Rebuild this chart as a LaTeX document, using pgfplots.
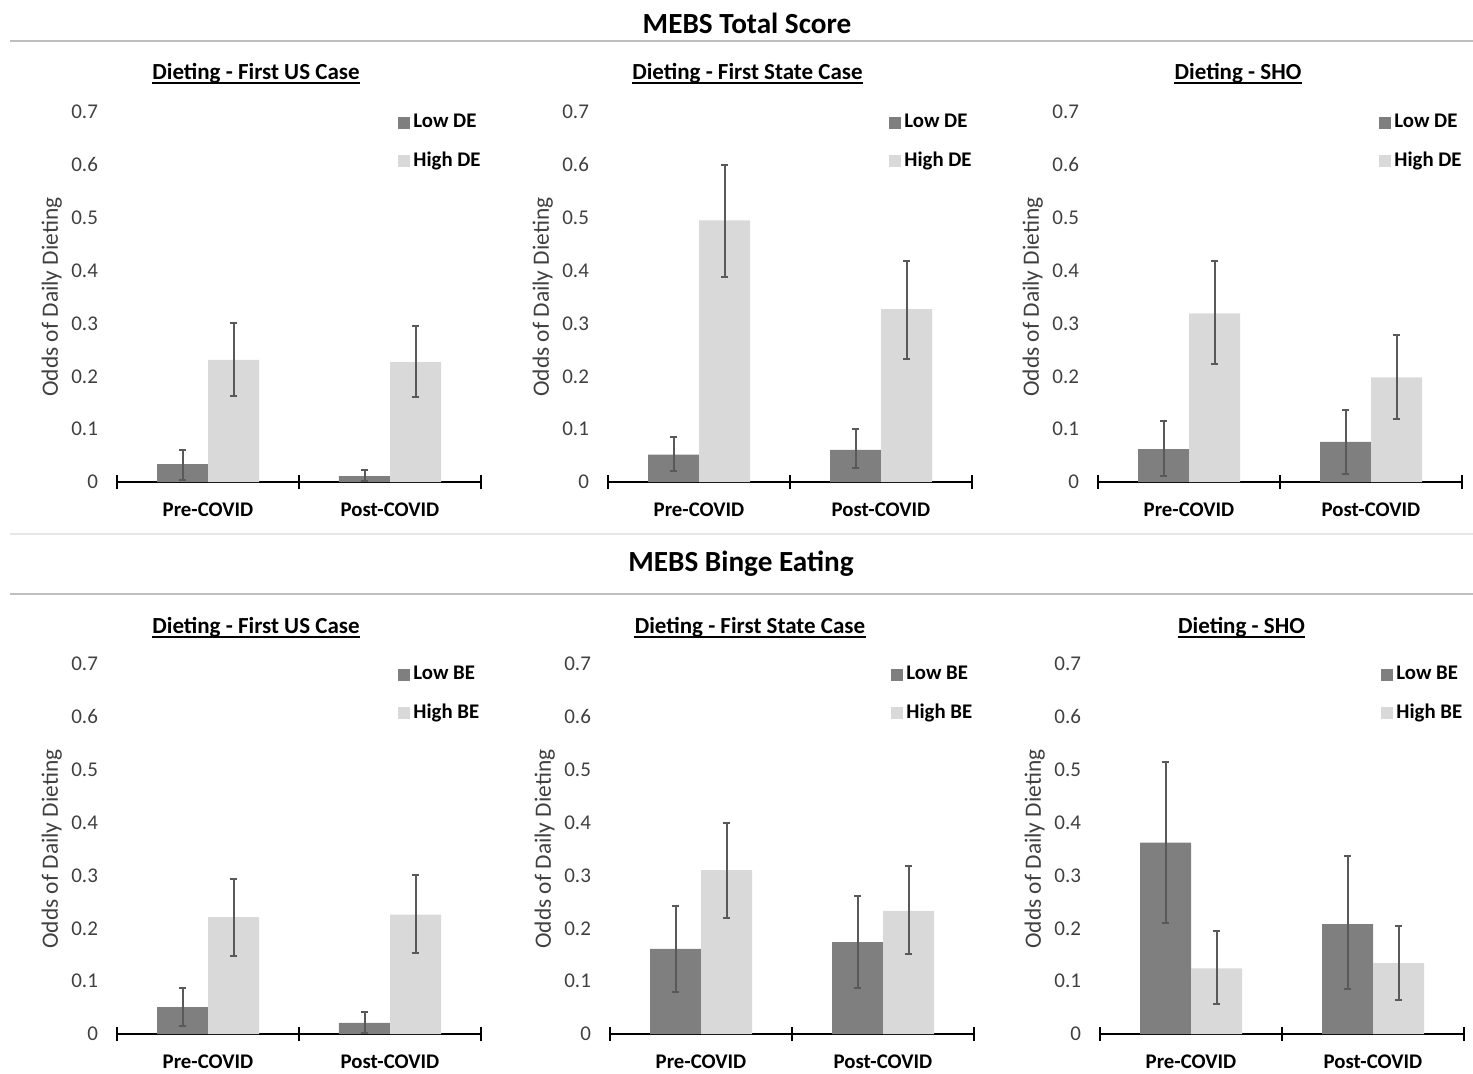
\documentclass[border=0pt]{standalone}
\usepackage{fontspec}
\setmainfont{Carlito}
\usepackage{pgfplots}
\pgfplotsset{compat=1.18}
\definecolor{lowc}{HTML}{7F7F7F}
\definecolor{highc}{HTML}{D9D9D9}
\definecolor{errc}{HTML}{595959}
\definecolor{txt}{HTML}{404040}
\definecolor{rulec}{HTML}{BFBFBF}
\definecolor{rulel}{HTML}{E6E6E6}
\newcommand{\legtxt}[1]{\fontsize{10.4}{12}\selectfont\bfseries #1}

\pgfplotsset{
 panel/.style={
  scale only axis, width=182pt, height=185pt,
  xmin=-0.5, xmax=1.5, ymin=0, ymax=0.7,
  axis x line=bottom, axis y line=left,
  x axis line style={-, line width=1.2pt, black},
  y axis line style={draw=none},
  xtick={0,1}, xticklabels={Pre-COVID,Post-COVID},
  major tick length=0pt,
  extra x ticks={-0.5,0.5,1.5}, extra x tick labels={},
  extra x tick style={major tick length=7pt, tick align=center, tick style={line width=1pt, black}},
  xticklabel style={font=\fontsize{10.4}{12}\selectfont\bfseries, anchor=center, yshift=-14pt},
  ytick={0,0.1,0.2,0.3,0.4,0.5,0.6,0.7},
  yticklabels={0,0.1,0.2,0.3,0.4,0.5,0.6,0.7},
  yticklabel style={font=\fontsize{10.5}{12}\selectfont, text=txt, xshift=-6pt},
  ylabel={Odds of Daily Dieting},
  every axis y label/.style={at={(axis description cs:-0.179,0.5)}, rotate=90, anchor=center, font=\fontsize{11.7}{14}\selectfont, text=txt},
  ybar=0pt, bar width=25.5pt,
  legend style={at={(axis description cs:0.772,1)}, anchor=north west, yshift=0.5pt, draw=none, fill=none, inner sep=0pt,
    nodes={inner sep=1.5pt},
    row sep=7.5pt},
  legend cell align=left,
  clip=false,
 },
 errs/.style={error bars/.cd, y dir=both, y explicit, error bar style={line width=1pt, errc}, error mark options={line width=1pt, errc, mark size=1.8pt, rotate=90}},
 sq/.style={legend image code/.code={\fill[##1] (0pt,-3pt) rectangle (6pt,3pt);}},
}

\begin{document}
\begin{tikzpicture}
\tikzset{sub/.style={inner sep=0pt, anchor=base, font=\fontsize{11.5}{14}\selectfont\bfseries}}
% main titles and rules
\node[inner sep=0pt, anchor=base, font=\fontsize{14.6}{17}\selectfont\bfseries] at (373.5pt,-16.75pt) {MEBS Total Score};
\draw[rulec, line width=0.6pt] (5pt,-20.5pt) -- (736.5pt,-20.5pt);
\draw[rulel, line width=0.6pt] (5pt,-267pt) -- (736.5pt,-267pt);
\node[inner sep=0pt, anchor=base, font=\fontsize{14.6}{17}\selectfont\bfseries] at (370.5pt,-285.5pt) {MEBS Binge Eating};
\draw[rulec, line width=0.6pt] (5pt,-297pt) -- (736.5pt,-297pt);

% subtitles
\node[sub] (s1) at (128pt,-39.5pt) {Dieting - First US Case};
\node[sub] (s2) at (373.75pt,-39.5pt) {Dieting - First State Case};
\node[sub] (s3) at (619pt,-39.5pt) {Dieting - SHO};
\node[sub] (s4) at (128pt,-316.5pt) {Dieting - First US Case};
\node[sub] (s5) at (375pt,-316.5pt) {Dieting - First State Case};
\node[sub] (s6) at (620.75pt,-316.5pt) {Dieting - SHO};
\foreach \s in {s1,s2,s3,s4,s5,s6}{
  \draw[line width=0.7pt] ([yshift=-2pt]\s.base west) -- ([yshift=-2pt]\s.base east);
}

% Panel 1
\begin{axis}[panel, at={(58.5pt,-241pt)}, anchor=south west]
\addplot[fill=lowc, draw=none, sq, errs] coordinates {(0,0.034) += (0,0.026) -= (0,0.031) (1,0.011) += (0,0.011) -= (0,0.010)};
\addplot[fill=highc, draw=none, sq, errs] coordinates {(0,0.231) += (0,0.069) -= (0,0.068) (1,0.227) += (0,0.069) -= (0,0.067)};
\legend{\legtxt{Low DE}, \legtxt{High DE}}
\end{axis}

% Panel 2
\begin{axis}[panel, at={(304pt,-241pt)}, anchor=south west]
\addplot[fill=lowc, draw=none, sq, errs] coordinates {(0,0.052) += (0,0.034) -= (0,0.032) (1,0.061) += (0,0.039) -= (0,0.035)};
\addplot[fill=highc, draw=none, sq, errs] coordinates {(0,0.495) += (0,0.105) -= (0,0.107) (1,0.327) += (0,0.091) -= (0,0.094)};
\legend{\legtxt{Low DE}, \legtxt{High DE}}
\end{axis}

% Panel 3
\begin{axis}[panel, at={(549pt,-241pt)}, anchor=south west]
\addplot[fill=lowc, draw=none, sq, errs] coordinates {(0,0.062) += (0,0.054) -= (0,0.050) (1,0.076) += (0,0.061) -= (0,0.060)};
\addplot[fill=highc, draw=none, sq, errs] coordinates {(0,0.319) += (0,0.099) -= (0,0.096) (1,0.198) += (0,0.081) -= (0,0.079)};
\legend{\legtxt{Low DE}, \legtxt{High DE}}
\end{axis}

% Panel 4
\begin{axis}[panel, at={(58.5pt,-517pt)}, anchor=south west]
\addplot[fill=lowc, draw=none, sq, errs] coordinates {(0,0.051) += (0,0.037) -= (0,0.036) (1,0.021) += (0,0.020) -= (0,0.019)};
\addplot[fill=highc, draw=none, sq, errs] coordinates {(0,0.221) += (0,0.073) -= (0,0.073) (1,0.226) += (0,0.074) -= (0,0.073)};
\legend{\legtxt{Low BE}, \legtxt{High BE}}
\end{axis}

% Panel 5
\begin{axis}[panel, at={(305pt,-517pt)}, anchor=south west]
\addplot[fill=lowc, draw=none, sq, errs] coordinates {(0,0.161) += (0,0.081) -= (0,0.082) (1,0.174) += (0,0.088) -= (0,0.087)};
\addplot[fill=highc, draw=none, sq, errs] coordinates {(0,0.310) += (0,0.090) -= (0,0.091) (1,0.233) += (0,0.084) -= (0,0.081)};
\legend{\legtxt{Low BE}, \legtxt{High BE}}
\end{axis}

% Panel 6
\begin{axis}[panel, at={(550pt,-517pt)}, anchor=south west]
\addplot[fill=lowc, draw=none, sq, errs] coordinates {(0,0.362) += (0,0.153) -= (0,0.152) (1,0.208) += (0,0.128) -= (0,0.123)};
\addplot[fill=highc, draw=none, sq, errs] coordinates {(0,0.124) += (0,0.070) -= (0,0.067) (1,0.134) += (0,0.071) -= (0,0.070)};
\legend{\legtxt{Low BE}, \legtxt{High BE}}
\end{axis}

\pgfresetboundingbox
\useasboundingbox (0pt,0pt) rectangle (736.5pt,-536.5pt);
\end{tikzpicture}
\end{document}
